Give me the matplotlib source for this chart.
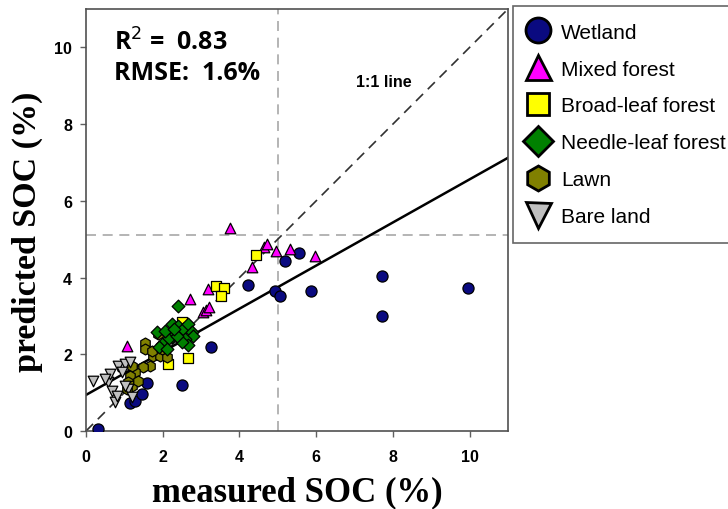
import matplotlib
matplotlib.use("Agg")
import matplotlib.pyplot as plt
from matplotlib.lines import Line2D
import numpy as np

# measured vs predicted SOC (%) by land cover
wet_x = [0.32, 1.15, 1.28, 1.47, 1.60, 2.51, 3.27, 4.22, 4.92, 5.05, 5.18, 5.55, 5.86, 7.72, 7.71, 9.97]
wet_y = [0.05, 0.73, 0.78, 0.96, 1.25, 1.20, 2.20, 3.80, 3.65, 3.52, 4.44, 4.64, 3.65, 4.03, 3.00, 3.73]

mix_x = [1.08, 2.70, 3.19, 3.05, 3.12, 3.20, 4.33, 4.64, 4.73, 4.96, 5.31, 5.96, 3.75]
mix_y = [2.22, 3.45, 3.70, 3.10, 3.16, 3.22, 4.27, 4.80, 4.87, 4.70, 4.74, 4.55, 5.30]

brd_x = [4.43, 3.40, 3.59, 3.53, 2.66, 2.14, 2.49]
brd_y = [4.60, 3.78, 3.72, 3.52, 1.89, 1.74, 2.83]

ndl_x = [2.40, 2.25, 2.41, 2.53, 2.66, 2.75, 2.80, 2.58, 2.66, 2.49, 2.23, 2.14, 1.99, 1.90, 1.84, 2.06, 2.36, 2.10, 2.30]
ndl_y = [3.25, 2.79, 2.74, 2.66, 2.79, 2.57, 2.47, 2.40, 2.24, 2.31, 2.44, 2.41, 2.27, 2.20, 2.57, 2.61, 2.47, 2.14, 2.66]

lawn_x = [1.54, 1.87, 1.54, 1.75, 1.93, 2.10, 1.67, 1.49, 1.28, 1.19, 1.15, 1.10, 1.19, 1.06, 1.36, 1.71, 1.97]
lawn_y = [2.29, 2.53, 2.14, 1.96, 1.96, 1.92, 1.70, 1.66, 1.53, 1.70, 1.44, 1.27, 1.18, 1.09, 1.31, 2.09, 2.14]

bare_x = [0.19, 0.58, 0.67, 0.76, 0.84, 1.02, 1.15, 0.63, 0.93, 1.10, 1.19, 1.02, 0.80, 0.49]
bare_y = [1.31, 1.27, 1.05, 0.75, 1.70, 1.74, 1.79, 1.48, 1.53, 1.09, 0.88, 1.18, 0.92, 1.35]

fit_intercept = 0.94
fit_slope = 0.562
ref_x = 5.0
ref_y = 5.1

classes = ["Wetland", "Mixed forest", "Broad-leaf forest", "Needle-leaf forest", "Lawn", "Bare land"]
colors = ["#0a0a80", "#ff00ff", "#ffff00", "#008000", "#808000", "#c0c0c0"]
markers = ["o", "^", "s", "D", "h", "v"]

fig = plt.figure(figsize=(7.28, 5.10), dpi=100)
ax = fig.add_axes([86 / 728, 1 - 432 / 510, 422 / 728, 422 / 510])

ax.set_xlim(0, 11)
ax.set_ylim(0, 11)

# reference lines
ax.axvline(ref_x, color="#a8a8a8", ls=(0, (6, 4)), lw=1.2, zorder=1)
ax.axhline(ref_y, color="#a8a8a8", ls=(0, (6, 4)), lw=1.2, zorder=1)
xx = np.array([0, 11])
ax.plot(xx, xx, color="#303030", ls=(0, (6, 4)), lw=1.2, zorder=2)
ax.plot(xx, fit_intercept + fit_slope * xx, color="black", lw=1.8, zorder=2)

kw = dict(edgecolors="black", linewidths=0.9, zorder=3)
ax.scatter(wet_x, wet_y, s=64, marker="o", c=colors[0], **kw)
ax.scatter(mix_x, mix_y, s=58, marker="^", c=colors[1], **kw)
ax.scatter(brd_x, brd_y, s=50, marker="s", c=colors[2], **kw)
ax.scatter(lawn_x, lawn_y, s=62, marker="h", c=colors[4], **kw)
ax.scatter(bare_x, bare_y, s=58, marker="v", c=colors[5], **kw)
ax.scatter(ndl_x, ndl_y, s=42, marker="D", c=colors[3], **kw)

ax.set_xticks(range(0, 11, 2))
ax.set_yticks(range(0, 11, 2))
for lab in ax.get_xticklabels() + ax.get_yticklabels():
    lab.set_fontweight("bold")
    lab.set_fontsize(11.5)
    lab.set_family("Liberation Sans")
ax.tick_params(direction="out", length=4, width=1, color="#606060", pad=6)
ax.tick_params(axis="x", pad=9)
for sp in ax.spines.values():
    sp.set_color("#505050")
    sp.set_linewidth(1.2)

ax.set_xlabel("measured SOC (%)", family="Liberation Serif", fontweight="bold", fontsize=25, labelpad=8)
ax.set_ylabel("predicted SOC (%)", family="Liberation Serif", fontweight="bold", fontsize=24.5, labelpad=8)
ax.yaxis.set_label_coords(-0.102, 0.475)

ax.text(0.72, 10.15, "R$^2$ =  0.83", family="Open Sans", fontweight="bold", fontsize=18, va="center")
ax.text(0.72, 9.35, "RMSE:  1.6%", family="Open Sans", fontweight="bold", fontsize=18, va="center")
ax.text(7.05, 9.1, "1:1 line", family="Liberation Sans", fontweight="bold", fontsize=11.5, va="center")

msizes = [18, 18, 16, 15, 18, 18]
handles = [Line2D([], [], ls="none", marker=m, markersize=s, markerfacecolor=c,
                  markeredgecolor="black", markeredgewidth=2)
           for m, s, c in zip(markers, msizes, colors)]
leg = fig.legend(handles, classes, loc="upper left",
                 bbox_to_anchor=(513 / 728, 1 - 7 / 510),
                 prop={"family": "Liberation Sans", "size": 15},
                 frameon=True, fancybox=False, edgecolor="#404040",
                 handletextpad=0.72, labelspacing=0.86, borderpad=0.8, handlelength=0.8,
                 borderaxespad=0)
leg.get_frame().set_linewidth(1.2)

fig.savefig("out.png", dpi=100)
